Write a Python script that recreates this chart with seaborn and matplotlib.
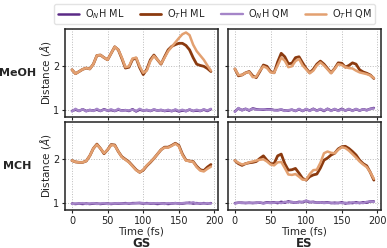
import numpy as np
import pandas as pd
import matplotlib
matplotlib.use("Agg")
import matplotlib.pyplot as plt
import seaborn as sns

time = list(range(0, 200, 5))

# MeOH / GS
meoh_gs_on_ml = [0.97,1.00,0.97,1.01,0.97,0.99,0.98,1.00,0.97,1.01,0.98,0.99,0.97,1.00,0.98,0.99,0.97,1.01,0.96,1.00,
                 0.98,0.99,0.97,1.00,0.98,0.99,0.97,0.98,0.97,0.99,0.96,0.98,0.97,1.00,0.97,0.98,0.97,1.00,0.97,1.01]
meoh_gs_ot_ml = [1.92,1.83,1.88,1.93,1.96,1.94,2.05,2.25,2.26,2.20,2.15,2.30,2.45,2.38,2.18,1.96,1.98,2.16,2.19,1.97,
                 1.81,1.93,2.15,2.26,2.15,2.05,2.22,2.38,2.46,2.50,2.53,2.53,2.48,2.38,2.20,2.05,2.02,2.00,1.95,1.88]
meoh_gs_on_qm = [0.96,1.02,0.97,1.01,0.96,1.00,0.97,1.02,0.97,1.00,0.98,1.01,0.97,1.02,0.97,0.99,0.98,1.00,0.97,1.02,
                 0.98,1.00,0.97,1.01,0.98,1.00,0.97,1.00,0.96,1.01,0.97,1.00,0.96,1.01,0.97,1.00,0.97,1.01,0.98,1.02]
meoh_gs_ot_qm = [1.92,1.83,1.88,1.93,1.96,1.94,2.05,2.25,2.26,2.20,2.15,2.30,2.45,2.38,2.20,1.98,2.00,2.18,2.20,2.00,
                 1.85,1.90,2.12,2.24,2.15,2.06,2.20,2.35,2.45,2.55,2.65,2.74,2.78,2.72,2.50,2.35,2.25,2.15,2.02,1.90]

# MeOH / ES
meoh_es_on_ml = [0.96,1.03,0.99,1.02,0.98,1.03,1.01,1.00,1.00,1.01,1.01,0.99,0.99,1.00,0.98,0.98,1.00,0.97,1.01,0.97,
                 1.01,0.98,1.02,0.98,1.01,0.97,1.02,0.98,1.01,0.98,1.02,0.98,1.01,0.98,1.01,0.98,1.01,0.99,1.02,1.04]
meoh_es_ot_ml = [1.94,1.78,1.80,1.85,1.88,1.78,1.74,1.88,2.03,2.00,1.88,1.85,2.10,2.30,2.22,2.06,2.07,2.20,2.22,2.08,
                 1.95,1.85,1.93,2.05,2.12,2.05,1.95,1.85,1.95,2.08,2.07,1.98,2.02,2.08,2.05,1.92,1.87,1.84,1.80,1.72]
meoh_es_on_qm = [0.95,1.04,0.98,1.02,0.99,1.02,1.00,1.00,1.01,1.00,1.00,0.99,0.98,1.01,0.97,0.99,1.00,0.97,1.02,0.97,
                 1.02,0.97,1.02,0.97,1.02,0.98,1.02,0.97,1.02,0.97,1.01,0.98,1.02,0.97,1.02,0.98,1.01,0.98,1.02,1.03]
meoh_es_ot_qm = [1.94,1.80,1.80,1.85,1.87,1.75,1.76,1.90,2.00,1.96,1.86,1.85,2.02,2.20,2.13,1.98,2.00,2.12,2.17,2.02,
                 1.93,1.84,1.90,2.02,2.09,2.02,1.93,1.84,1.94,2.05,2.03,1.98,1.96,1.95,1.90,1.86,1.84,1.82,1.79,1.73]

# MCH / GS
mch_gs_on_ml = [0.98,0.97,0.98,0.97,0.98,0.97,0.98,0.98,0.97,0.98,0.98,0.97,0.98,0.98,0.98,0.99,0.98,0.99,0.99,0.99,
                0.98,0.99,0.98,0.98,0.97,0.98,0.98,0.97,0.98,0.99,0.98,0.98,0.99,1.00,0.98,0.99,0.98,0.99,0.98,0.99]
mch_gs_ot_ml = [1.97,1.94,1.93,1.93,1.96,2.08,2.25,2.35,2.25,2.13,2.22,2.34,2.33,2.18,2.06,2.00,1.94,1.85,1.76,1.70,
                1.75,1.85,1.93,2.02,2.12,2.22,2.28,2.28,2.32,2.37,2.32,2.12,1.98,1.96,1.95,1.84,1.76,1.74,1.82,1.88]
mch_gs_on_qm = [0.97,0.98,0.98,0.99,0.97,0.98,0.99,0.97,0.98,0.99,0.97,0.98,0.98,0.99,0.98,0.98,0.99,0.98,0.99,1.00,
                0.99,0.98,0.99,0.98,0.99,0.98,0.97,0.99,0.98,0.99,0.98,0.99,1.00,0.98,1.01,0.98,0.99,0.98,0.99,0.98]
mch_gs_ot_qm = [1.97,1.94,1.93,1.93,1.96,2.08,2.25,2.34,2.25,2.14,2.22,2.33,2.32,2.18,2.05,1.99,1.93,1.84,1.75,1.70,
                1.76,1.86,1.94,2.02,2.12,2.22,2.27,2.27,2.31,2.36,2.30,2.10,1.97,1.96,1.94,1.82,1.74,1.72,1.78,1.83]

# MCH / ES
mch_es_on_ml = [0.99,1.00,1.00,0.99,1.00,0.99,1.00,1.00,0.99,1.01,1.00,1.01,0.99,1.02,1.00,1.03,1.01,1.00,1.02,1.01,
                1.04,1.01,1.02,1.00,1.01,1.00,1.01,0.99,1.00,0.99,1.01,0.98,1.00,0.99,1.01,0.99,1.01,1.00,1.03,1.03]
mch_es_ot_ml = [1.97,1.90,1.86,1.90,1.92,1.93,1.95,2.02,2.08,1.98,1.90,1.90,2.08,2.12,1.90,1.75,1.76,1.79,1.68,1.56,
                1.52,1.60,1.64,1.66,1.80,1.98,2.03,2.10,2.14,2.24,2.29,2.30,2.25,2.18,2.10,1.98,1.90,1.85,1.70,1.52]
mch_es_on_qm = [0.98,1.00,0.99,1.00,0.99,1.00,0.99,1.01,0.98,1.00,0.99,1.00,1.01,0.99,1.02,1.01,1.02,1.00,1.01,1.02,
                1.05,1.02,1.01,1.00,1.01,0.99,1.00,1.00,0.98,1.00,0.99,1.00,0.98,1.01,0.99,1.00,0.99,1.02,1.03,1.02]
mch_es_ot_qm = [1.97,1.92,1.88,1.90,1.93,1.95,1.97,1.99,2.00,1.95,1.88,1.86,1.93,1.94,1.80,1.65,1.64,1.66,1.60,1.53,
                1.53,1.66,1.75,1.76,1.92,2.14,2.18,2.15,2.14,2.22,2.28,2.26,2.20,2.12,2.04,1.95,1.88,1.82,1.70,1.55]

series_names = [r"O$_N$H ML", r"O$_T$H ML", r"O$_N$H QM", r"O$_T$H QM"]
series_colors = ["#5b2a86", "#8b3a0f", "#a585c8", "#e3a070"]
series_widths = [1.8, 2.0, 1.7, 1.8]
row_labels = ["MeOH", "MCH"]
col_labels = ["GS", "ES"]

panels = {
    (0, 0): [meoh_gs_on_ml, meoh_gs_ot_ml, meoh_gs_on_qm, meoh_gs_ot_qm],
    (0, 1): [meoh_es_on_ml, meoh_es_ot_ml, meoh_es_on_qm, meoh_es_ot_qm],
    (1, 0): [mch_gs_on_ml, mch_gs_ot_ml, mch_gs_on_qm, mch_gs_ot_qm],
    (1, 1): [mch_es_on_ml, mch_es_ot_ml, mch_es_on_qm, mch_es_ot_qm],
}

sns.set_style("whitegrid")
plt.rcParams["font.family"] = ["DejaVu Sans"]

fig = plt.figure(figsize=(3.87, 2.48), dpi=100)
lefts = [0.168, 0.589]
bottoms = [0.528, 0.153]
w, h = 0.395, 0.355
axes = {}
for r in range(2):
    for c in range(2):
        ax = fig.add_axes([lefts[c], bottoms[r], w, h])
        axes[(r, c)] = ax
        vals = panels[(r, c)]
        for name, col, lw, v in zip(series_names, series_colors, series_widths, vals):
            df = pd.DataFrame({"Time": time, "Distance": v})
            sns.lineplot(data=df, x="Time", y="Distance", ax=ax, color=col, lw=lw,
                         label=name if (r, c) == (0, 0) else None)
        ax.set_ylim(0.83, 2.86)
        ax.set_xticks([0, 50, 100, 150, 200])
        ax.set_yticks([1, 2])
        ax.grid(True, linestyle=":", color="#bbbbbb", linewidth=0.7)
        for s in ax.spines.values():
            s.set_color("#222222")
            s.set_linewidth(1.1)
        ax.tick_params(axis="both", labelsize=7, length=2.5, width=0.8, pad=1.5,
                       bottom=True, left=True, colors="#222222")
        if ax.get_legend() is not None:
            ax.get_legend().remove()
        if r == 1:
            ax.set_xlabel("Time (fs)", fontsize=7.5, labelpad=0.5)
        else:
            ax.set_xlabel("")
            ax.set_xticklabels([])
        if c == 0:
            ax.set_ylabel(r"Distance ($\AA$)", fontsize=7.5, labelpad=0.5)
        else:
            ax.set_ylabel("")
            ax.set_yticklabels([])

for r, lab in enumerate(row_labels):
    fig.text(0.045, bottoms[r] + h / 2, lab, fontsize=8, fontweight="bold",
             ha="center", va="center")
for c, lab in enumerate(col_labels):
    fig.text(lefts[c] + w / 2, 0.02, lab, fontsize=8.5, fontweight="bold",
             ha="center", va="center")

handles, labels = axes[(0, 0)].get_legend_handles_labels()
fig.legend(handles, labels, loc="upper center", bbox_to_anchor=(0.555, 1.005), ncol=4,
           fontsize=7, frameon=True, handlelength=2.2, columnspacing=1.6,
           handletextpad=0.6, borderpad=0.35, edgecolor="#dddddd", fancybox=True)

fig.savefig("out.png", dpi=100)
